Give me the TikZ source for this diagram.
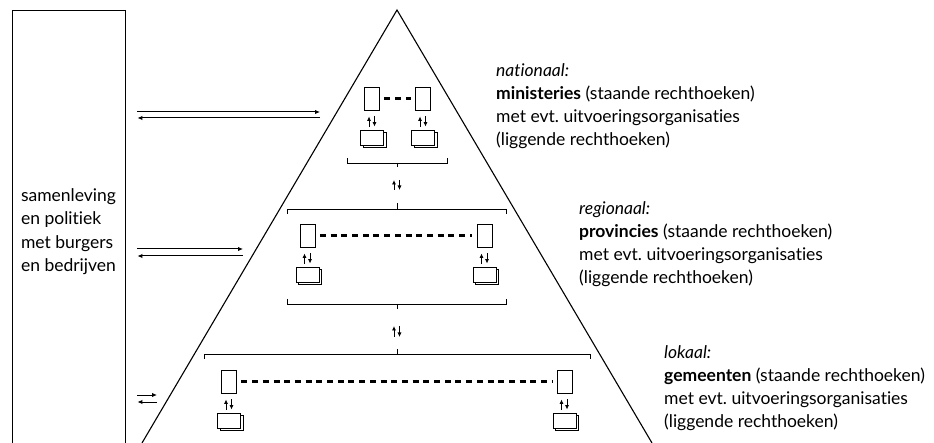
\documentclass[tikz,border=0pt]{standalone}
\usepackage{fontspec}
\setmainfont{Lato}[Ligatures=NoCommon]
\frenchspacing
\usetikzlibrary{arrows.meta,shadows}

\begin{document}
\begin{tikzpicture}[
  x=1pt, y=-1pt,
  staand/.style={draw, line width=0.9pt, minimum width=15pt, minimum height=23pt, inner sep=0pt},
  liggend/.style={draw, line width=0.9pt, fill=white, minimum width=23pt, minimum height=15pt, inner sep=0pt,
    copy shadow={shadow xshift=2.5pt, shadow yshift=-2.5pt}},
  stippel/.style={line width=2.6pt, dash pattern=on 6pt off 4.7pt, shorten <=4.5pt, shorten >=4.5pt},
  pijl/.style={-{Latex[length=5pt, width=4.5pt]}, line width=1pt},
  pijltje/.style={-{Latex[length=4.5pt, width=4.2pt]}, line width=0.9pt},
  uitleg/.style={anchor=north west, align=left, inner sep=0pt, font=\fontsize{17.5}{23.3}\selectfont}
]
\useasboundingbox (0,0) rectangle (934,443);
\clip (0,0) rectangle (934,443);

% Samenleving
\node[draw, line width=0.9pt, minimum width=113pt, minimum height=443pt, inner sep=0pt, align=left,
  font=\fontsize{17.5}{23.3}\selectfont] (samenleving) at (68.5,231.5)
  {samenleving\\en politiek\\met burgers\\en bedrijven};

% Piramide
\coordinate (top) at (397,10);
\draw[line width=1.1pt] (142,443) -- (top) -- (652,443);

% Nationaal
\node[staand] (min1) at (372,98.5) {};
\node[staand] (min2) at (423,98.5) {};
\node[liggend] (uo1) at (372,137.5) {};
\node[liggend] (uo2) at (423,137.5) {};
\draw[stippel] (min1) -- (min2);

% Regionaal
\node[staand] (prov1) at (307.5,235.5) {};
\node[staand] (prov2) at (484.5,235.5) {};
\node[liggend] (uo3) at (307.5,274.5) {};
\node[liggend] (uo4) at (484.5,274.5) {};
\draw[stippel] (prov1) -- (prov2);

% Lokaal
\node[staand] (gem1) at (229,381.5) {};
\node[staand] (gem2) at (564.5,381.5) {};
\node[liggend] (uo5) at (229,420.5) {};
\node[liggend] (uo6) at (564.5,420.5) {};
\draw[stippel] (gem1) -- (gem2);

% Op en neer
\foreach \s/\u in {min1/uo1, min2/uo2, prov1/uo3, prov2/uo4, gem1/uo5, gem2/uo6} {
  \draw[pijltje, shorten <=3pt, shorten >=6pt] ([xshift=-3pt]\u.north) -- ([xshift=-3pt]\s.south);
  \draw[pijltje, shorten <=6pt, shorten >=3pt] ([xshift=2.5pt]\s.south) -- ([xshift=2.5pt]\u.north);
}

% Haken
\draw[line width=0.9pt] (347,158) |- (447,163) -- (447,158);
\draw[line width=0.9pt] (287,214) |- (506,209) -- (506,214);
\draw[line width=0.9pt] (287,299) |- (506,304) -- (506,299);
\draw[line width=0.9pt] (204,359) |- (590,354) -- (590,359);
\coordinate (h1) at (397,167);
\coordinate (h2) at (397,203);
\coordinate (h3) at (397,309);
\coordinate (h4) at (397,349);
\draw[line width=0.9pt] (397,163) -- (h1);
\draw[line width=0.9pt] (397,209) -- (h2);
\draw[line width=0.9pt] (397,304) -- (h3);
\draw[line width=0.9pt] (397,354) -- (h4);
\draw[pijltje, shorten <=13pt, shorten >=13pt] ([xshift=-3pt]h2) -- ([xshift=-3pt]h1);
\draw[pijltje, shorten <=13pt, shorten >=13pt] ([xshift=2.5pt]h1) -- ([xshift=2.5pt]h2);
\draw[pijltje, shorten <=12pt, shorten >=17pt] ([xshift=-3pt]h4) -- ([xshift=-3pt]h3);
\draw[pijltje, shorten <=17pt, shorten >=12pt] ([xshift=2.5pt]h3) -- ([xshift=2.5pt]h4);

% Wisselwerking
\coordinate (n1) at (320,112);
\coordinate (n2) at (320,118);
\coordinate (r1) at (243,249);
\coordinate (r2) at (243,256);
\coordinate (l1) at (157,395);
\coordinate (l2) at (157,402);
\foreach \h/\t in {n1/n2, r1/r2, l1/l2} {
  \draw[pijl, shorten <=12pt] (samenleving.east |- \h) -- (\h);
  \draw[pijl, shorten >=12pt] (\t) -- (samenleving.east |- \t);
}

% Toelichting
\node[uitleg] (nat) at (496,63) {\textit{nationaal:}\\\textbf{ministeries} (staande rechthoeken)\\met evt. uitvoeringsorganisaties\\(liggende rechthoeken)};
\node[uitleg] (reg) at (579,201) {\textit{regionaal:}\\\textbf{provincies} (staande rechthoeken)\\met evt. uitvoeringsorganisaties\\(liggende rechthoeken)};
\node[uitleg] (lok) at (664,345) {\textit{lokaal:}\\\textbf{gemeenten} (staande rechthoeken)\\met evt. uitvoeringsorganisaties\\(liggende rechthoeken)};

\end{tikzpicture}
\end{document}
